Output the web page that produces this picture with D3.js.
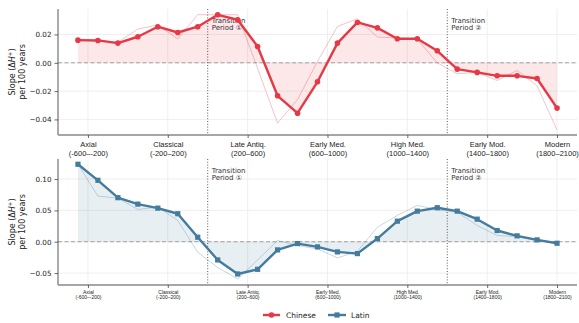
<!DOCTYPE html>
<html>
<head>
<meta charset="utf-8">
<script src="https://cdn.jsdelivr.net/npm/d3@7"></script>
<style>
  html, body { margin: 0; padding: 0; background: #fff; }
  svg { display: block; font-family: "DejaVu Sans", sans-serif; }
</style>
</head>
<body>
<svg id="chart" width="579" height="323"></svg>
<script>
// Window midpoints (years) for the rolling slope estimates
const years = [-450, -350, -250, -150, -50, 50, 150, 250, 350, 450, 550, 650, 750,
               850, 950, 1050, 1150, 1250, 1350, 1450, 1550, 1650, 1750, 1850, 1950];

// Chinese: smoothed slope and raw slope
const chineseSmooth = [0.0160, 0.0158, 0.0139, 0.0184, 0.0255, 0.0214, 0.0255, 0.0339, 0.0304,
                       0.0115, -0.0233, -0.0356, -0.0134, 0.0139, 0.0285, 0.0247, 0.0170, 0.0170,
                       0.0085, -0.0045, -0.0068, -0.0092, -0.0092, -0.0111, -0.0320];
const chineseRaw = [0.0160, 0.0158, 0.0145, 0.0238, 0.0267, 0.0168, 0.0340, 0.0340, 0.0340,
                    -0.0040, -0.0426, -0.0260, 0.0010, 0.0257, 0.0311, 0.0182, 0.0175, 0.0165,
                    0.0000, -0.0078, -0.0068, -0.0125, -0.0054, -0.0163, -0.0474];

// Latin: smoothed slope and raw slope
const latinSmooth = [0.1236, 0.0980, 0.0703, 0.0600, 0.0536, 0.0447, 0.0072, -0.0290, -0.0514,
                     -0.0440, -0.0130, -0.0029, -0.0082, -0.0162, -0.0189, 0.0051, 0.0328, 0.0488,
                     0.0543, 0.0488, 0.0360, 0.0179, 0.0094, 0.0030, -0.0024];
const latinRaw = [0.1236, 0.0728, 0.0696, 0.0515, 0.0552, 0.0339, -0.0168, -0.0410, -0.0594,
                  -0.0290, 0.0020, -0.0060, -0.0114, -0.0258, -0.0152, 0.0232, 0.0420, 0.0580,
                  0.0510, 0.0470, 0.0260, 0.0099, 0.0083, 0.0019, -0.0024];

// Historical periods on the x axis
const periodNames = ["Axial", "Classical", "Late Antiq.", "Early Med.", "High Med.", "Early Mod.", "Modern"];
const periodRanges = ["(-600–-200)", "(-200–200)", "(200–600)", "(600–1000)", "(1000–1400)", "(1400–1800)", "(1800–2100)"];
const periodCenters = [-400, 0, 400, 800, 1200, 1600, 1950];

// Transition boundaries
const transitionYears = [200, 1400];
const transitionMarks = ["①", "②"];

// Y ticks per panel
const chineseTicks = [0.02, 0.00, -0.02, -0.04];
const latinTicks = [0.10, 0.05, 0.00, -0.05];

const red = "#e63946", blue = "#457b9d";

const svg = d3.select("#chart");
const x = d3.scaleLinear().domain([-550, 2050]).range([58, 577]);
const fmt = v => (v < 0 ? "\u2212" : "") + Math.abs(v).toFixed(2);

const panels = [
  { smooth: chineseSmooth, raw: chineseRaw, color: red, top: 9, bottom: 135,
    domain: [-0.051, 0.038], ticks: chineseTicks, marker: "circle", labelSize: 7.5, bigLabels: true },
  { smooth: latinSmooth, raw: latinRaw, color: blue, top: 159, bottom: 285,
    domain: [-0.069, 0.132], ticks: latinTicks, marker: "square", labelSize: 5, bigLabels: false }
];

panels.forEach(p => {
  const y = d3.scaleLinear().domain(p.domain).range([p.bottom, p.top]);
  const g = svg.append("g");

  // grid
  g.selectAll(".hgrid").data(p.ticks).join("line")
    .attr("x1", x.range()[0]).attr("x2", x.range()[1])
    .attr("y1", d => y(d)).attr("y2", d => y(d))
    .attr("stroke", "#ebebeb").attr("stroke-width", 0.8);
  g.selectAll(".vgrid").data(periodCenters).join("line")
    .attr("x1", d => x(d)).attr("x2", d => x(d))
    .attr("y1", p.top).attr("y2", p.bottom)
    .attr("stroke", "#ebebeb").attr("stroke-width", 0.8);

  // fill between smoothed line and zero
  const area = d3.area().x((d, i) => x(years[i])).y0(y(0)).y1(d => y(d));
  g.append("path").datum(p.smooth).attr("d", area)
    .attr("fill", p.color).attr("fill-opacity", 0.12);

  // zero reference
  g.append("line").attr("x1", x.range()[0]).attr("x2", x.range()[1])
    .attr("y1", y(0)).attr("y2", y(0))
    .attr("stroke", "#999").attr("stroke-width", 0.9).attr("stroke-dasharray", "4,2.5");

  // transition boundaries
  transitionYears.forEach((t, k) => {
    g.append("line").attr("x1", x(t)).attr("x2", x(t))
      .attr("y1", p.top).attr("y2", p.bottom)
      .attr("stroke", "#444").attr("stroke-width", 0.9).attr("stroke-dasharray", "1,1.8");
    const tt = g.append("text").attr("x", x(t) + 4).attr("font-size", 7).attr("fill", "#333");
    const base = p.top + 13.5;
    tt.append("tspan").attr("x", x(t) + 4).attr("y", base).text("Transition");
    tt.append("tspan").attr("x", x(t) + 4).attr("y", base + 7.5).text("Period " + transitionMarks[k]);
  });

  // raw series
  const line = d3.line().x((d, i) => x(years[i])).y(d => y(d));
  g.append("path").datum(p.raw).attr("d", line)
    .attr("fill", "none").attr("stroke", p.color).attr("stroke-opacity", 0.3).attr("stroke-width", 1);

  // smoothed series
  g.append("path").datum(p.smooth).attr("d", line)
    .attr("fill", "none").attr("stroke", p.color).attr("stroke-width", 2.4)
    .attr("stroke-linejoin", "round");

  if (p.marker === "circle") {
    g.selectAll(".pt").data(p.smooth).join("circle")
      .attr("cx", (d, i) => x(years[i])).attr("cy", d => y(d)).attr("r", 2.8)
      .attr("fill", p.color);
  } else {
    g.selectAll(".pt").data(p.smooth).join("rect")
      .attr("x", (d, i) => x(years[i]) - 2.6).attr("y", d => y(d) - 2.6)
      .attr("width", 5.2).attr("height", 5.2).attr("fill", p.color);
  }

  // y axis
  const ya = g.append("g").attr("transform", `translate(${x.range()[0]},0)`)
    .call(d3.axisLeft(y).tickValues(p.ticks).tickFormat(fmt).tickSize(3.5).tickPadding(3));
  ya.select(".domain").attr("d", `M0,${p.top}V${p.bottom}`).attr("stroke", "#444").attr("stroke-width", 0.9);
  ya.selectAll(".tick line").attr("stroke", "#444").attr("stroke-width", 0.8);
  ya.selectAll(".tick text").attr("font-size", 7.2).attr("fill", "#222").attr("font-family", "DejaVu Sans");

  // x axis
  const xa = g.append("g").attr("transform", `translate(0,${p.bottom})`)
    .call(d3.axisBottom(x).tickValues(periodCenters).tickFormat("").tickSize(3));
  xa.select(".domain").attr("d", `M${x.range()[0]},0H${x.range()[1]}`)
    .attr("stroke", "#888").attr("stroke-width", 1.6);
  xa.selectAll(".tick line").attr("stroke", "#444").attr("stroke-width", 0.8);
  const fs = p.labelSize;
  xa.selectAll(".tick").each(function (d, i) {
    const t = d3.select(this).append("text").attr("text-anchor", "middle")
      .attr("fill", "#222").attr("font-size", fs);
    const b1 = p.bigLabels ? 12 : 8.8;
    const step = p.bigLabels ? 9 : 5.6;
    t.append("tspan").attr("x", 0).attr("y", b1).text(periodNames[i]);
    t.append("tspan").attr("x", 0).attr("y", b1 + step).text(periodRanges[i]);
  });

  // y axis title
  const cy = (p.top + p.bottom) / 2;
  const yl = g.append("text").attr("transform", `translate(15,${cy}) rotate(-90)`)
    .attr("text-anchor", "middle").attr("font-size", 8).attr("fill", "#222");
  yl.append("tspan").text("Slope (Δ");
  yl.append("tspan").attr("font-style", "italic").text("H");
  yl.append("tspan").attr("font-size", 5.5).attr("dy", -3).text("+");
  yl.append("tspan").attr("dy", 3).text(")");
  g.append("text").attr("transform", `translate(25,${cy}) rotate(-90)`)
    .attr("text-anchor", "middle").attr("font-size", 8).attr("fill", "#222")
    .text("per 100 years");
});

// legend
const lg = svg.append("g").attr("transform", "translate(0,315)");
lg.append("line").attr("x1", 263).attr("x2", 280).attr("stroke", red).attr("stroke-width", 2.4);
lg.append("circle").attr("cx", 271.5).attr("cy", 0).attr("r", 2.8).attr("fill", red);
lg.append("text").attr("x", 286).attr("y", 2.7).attr("font-size", 7.5).attr("fill", "#222").text("Chinese");
lg.append("line").attr("x1", 328).attr("x2", 346).attr("stroke", blue).attr("stroke-width", 2.4);
lg.append("rect").attr("x", 334.4).attr("y", -2.6).attr("width", 5.2).attr("height", 5.2).attr("fill", blue);
lg.append("text").attr("x", 351).attr("y", 2.7).attr("font-size", 7.5).attr("fill", "#222").text("Latin");
</script>
</body>
</html>
